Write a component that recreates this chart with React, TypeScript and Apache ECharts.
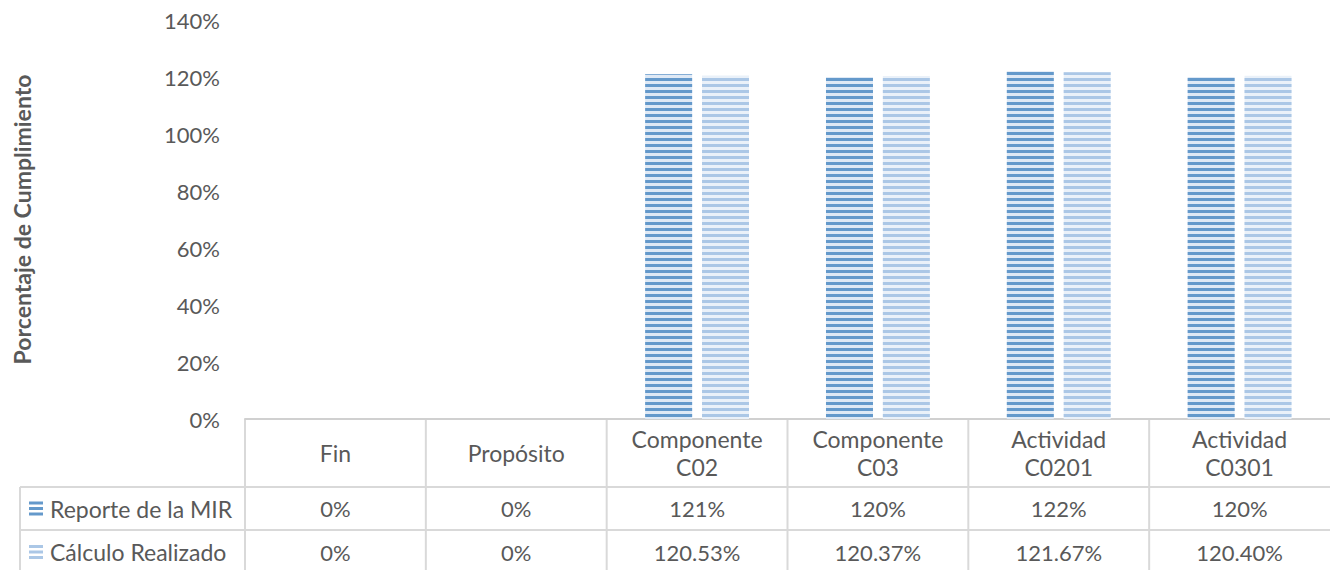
import React, { useEffect, useRef } from "react";
import * as echarts from "echarts";

const categories = ["Fin", "Propósito", "Componente C02", "Componente C03", "Actividad C0201", "Actividad C0301"];
const seriesNames = ["Reporte de la MIR", "Cálculo Realizado"];
const reporteMIR = [0, 0, 1.21, 1.2, 1.22, 1.2];
const calculoRealizado = [0, 0, 1.2053, 1.2037, 1.2167, 1.204];
const reporteDecimals = 0;
const calculoDecimals = 2;
const yAxisTitle = "Porcentaje de Cumplimiento";
const yMax = 1.4;
const yInterval = 0.2;

const W = 1330;
const H = 570;
const GRID_LEFT = 245;
const GRID_TOP = 20;
const GRID_BOTTOM_Y = 419;
const ROW1_Y = 487;
const ROW2_Y = 530;
const TABLE_LEFT = 20;
const FONT = "Lato, 'Open Sans', sans-serif";
const TEXT = "#595959";
const LINE = "#d9d9d9";

const darkStripe = "#6499cb";
const darkBase = "#dfe9f5";
const lightStripe = "#abc7e6";
const lightBase = "#eaf1f9";

function fmt(v: number, d: number) {
  if (v === 0) return "0%";
  return (v * 100).toFixed(d) + "%";
}

export default function App() {
  const ref = useRef<HTMLDivElement>(null);
  useEffect(() => {
    if (!ref.current) return;
    const chart = echarts.init(ref.current, null, { renderer: "svg" });
    const gridW = W - GRID_LEFT;
    const colW = gridW / categories.length;
    const graphic: any[] = [];
    const line = (x1: number, y1: number, x2: number, y2: number) =>
      graphic.push({ type: "line", shape: { x1, y1, x2, y2 }, style: { stroke: LINE, lineWidth: 2 }, silent: true });
    line(TABLE_LEFT, ROW1_Y, W, ROW1_Y);
    line(TABLE_LEFT, ROW2_Y, W, ROW2_Y);
    line(TABLE_LEFT, ROW1_Y, TABLE_LEFT, H);
    for (let i = 0; i < categories.length; i++) {
      const x = GRID_LEFT + colW * i;
      line(x, GRID_BOTTOM_Y, x, H);
    }
    const rows = [
      { y: (ROW1_Y + ROW2_Y) / 2, vals: reporteMIR, d: reporteDecimals, name: seriesNames[0], stripe: darkStripe },
      { y: (ROW2_Y + H) / 2 + 2, vals: calculoRealizado, d: calculoDecimals, name: seriesNames[1], stripe: lightStripe },
    ];
    rows.forEach((r) => {
      for (let k = 0; k < 3; k++) {
        graphic.push({ type: "rect", shape: { x: 29, y: r.y - 7 + k * 5.5, width: 14, height: 3 }, style: { fill: r.stripe }, silent: true });
      }
      graphic.push({
        type: "text", x: 50, y: r.y,
        style: { text: r.name, fill: TEXT, font: `23px ${FONT}`, textAlign: "left", textVerticalAlign: "middle" },
      });
      r.vals.forEach((v, i) => {
        graphic.push({
          type: "text", x: GRID_LEFT + colW * (i + 0.5), y: r.y,
          style: { text: fmt(v, r.d), fill: TEXT, font: `22px ${FONT}`, textAlign: "center", textVerticalAlign: "middle" },
        });
      });
    });

    const decal = (color: string) => ({
      symbol: "rect", symbolSize: 1, dashArrayX: [1, 0], dashArrayY: [3, 2.7], rotation: 0, color,
    });

    chart.setOption({
      animation: false,
      backgroundColor: "#ffffff",
      grid: { left: GRID_LEFT, top: GRID_TOP, right: 0, bottom: H - GRID_BOTTOM_Y, containLabel: false },
      xAxis: {
        type: "category",
        data: categories,
        axisLine: { show: true, lineStyle: { color: "#d0d0d0", width: 2 } },
        axisTick: { show: false },
        axisLabel: {
          interval: 0,
          formatter: (s: string) => s.replace(" ", "\n"),
          color: TEXT, fontFamily: FONT, fontSize: 23, lineHeight: 28,
          verticalAlign: "middle", margin: 34,
        },
      },
      yAxis: {
        type: "value", min: 0, max: yMax, interval: yInterval,
        axisLine: { show: false }, axisTick: { show: false }, splitLine: { show: false },
        axisLabel: { formatter: (v: number) => Math.round(v * 100) + "%", color: TEXT, fontFamily: FONT, fontSize: 22, margin: 25 },
        name: yAxisTitle, nameLocation: "middle", nameGap: 212, nameRotate: 90,
        nameTextStyle: { color: TEXT, fontFamily: FONT, fontSize: 23, fontWeight: "bold" },
      },
      series: [
        { name: seriesNames[0], type: "bar", data: reporteMIR, barWidth: 47, barGap: "21%", itemStyle: { color: darkBase, decal: decal(darkStripe) } },
        { name: seriesNames[1], type: "bar", data: calculoRealizado, barWidth: 47, itemStyle: { color: lightBase, decal: decal(lightStripe) } },
      ],
      graphic,
    });
    return () => chart.dispose();
  }, []);
  return <div ref={ref} style={{ position: "fixed", left: 0, top: 0, width: W, height: H }} />;
}
